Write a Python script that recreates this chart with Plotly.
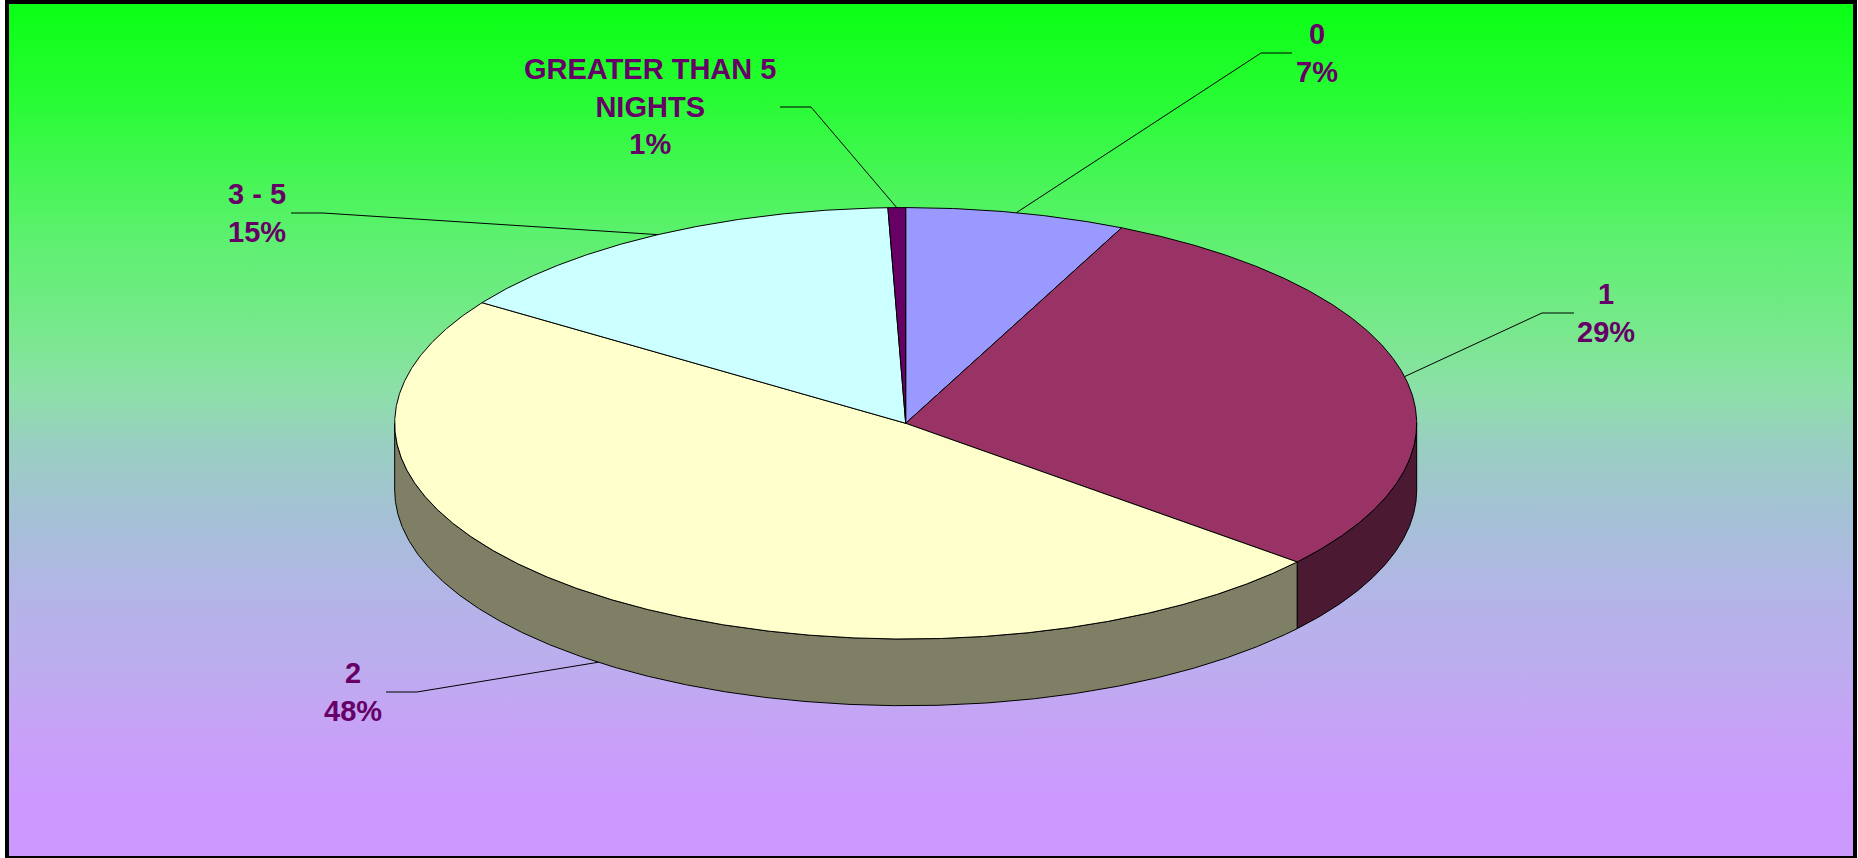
import math
import textwrap
import plotly.graph_objects as go

# Length of stay (nights) -- share of guests
categories = ["0", "1", "2", "3 - 5", "GREATER THAN 5 NIGHTS"]
guests = [25, 105, 174, 54, 2]
slice_colors = ["#9999ff", "#993366", "#ffffcc", "#ccffff", "#660066"]

# label placement: text centre, leader elbow, end of the horizontal leader stub
label_pos = [(1317, 52.5), (1606, 313), (352.5, 691.5), (257, 213), (650, 106)]
leader_elbow = [(1261, 53), (1542, 313), (417, 692), (323, 213), (811, 107)]
leader_end = [(1292, 53), (1574, 313), (386, 692), (291, 213), (780, 107)]

W, H = 1858, 858
CX, CY = 905.7, 423.3      # centre of the pie's top face
RX, RY = 511.0, 215.7      # radii of the tilted top face
DEPTH = 66.7               # thickness of the pie
LABEL_COLOR = "#660066"

# vertical background wash, top (green) to bottom (lavender)
bg_stops = [
    (2, "rgb(10,255,20)"),
    (100, "rgb(40,252,52)"),
    (240, "rgb(94,240,112)"),
    (330, "rgb(120,232,140)"),
    (390, "rgb(140,224,168)"),
    (440, "rgb(152,208,192)"),
    (520, "rgb(165,192,214)"),
    (600, "rgb(180,180,232)"),
    (660, "rgb(188,174,238)"),
    (740, "rgb(200,160,248)"),
    (800, "rgb(204,153,255)"),
    (858, "rgb(204,153,255)"),
]


def rim(t_deg, drop=0.0):
    t = math.radians(t_deg)
    return CX + RX * math.sin(t), CY - RY * math.cos(t) + drop


def arc(a0, a1, drop=0.0):
    n = max(2, int(abs(a1 - a0) / 0.25) + 1)
    pts = [rim(a0 + (a1 - a0) * i / (n - 1), drop) for i in range(n)]
    return [p[0] for p in pts], [p[1] for p in pts]


def shade(hex_color, k=0.5):
    h = hex_color.lstrip("#")
    r, g, b = (int(h[i:i + 2], 16) for i in (0, 2, 4))
    return "rgb({},{},{})".format(int(r * k), int(g * k), int(b * k))


fig = go.Figure()

# background panel
y0, y1 = 2, 858
scale = [[(y - y0) / (y1 - y0), c] for y, c in bg_stops]
scale[0][0], scale[-1][0] = 0.0, 1.0
fig.add_trace(go.Scatter(
    x=[7, 1855, 1855, 7, 7], y=[y0, y0, y1, y1, y0],
    mode="none", fill="toself",
    fillgradient=dict(type="vertical", start=y0, stop=y1, colorscale=scale),
    hoverinfo="skip", showlegend=False,
))

total = float(sum(guests))
bounds = [0.0]
for v in guests:
    bounds.append(bounds[-1] + 360.0 * v / total)

# side walls of the front half
for i, col in enumerate(slice_colors):
    s, e = max(bounds[i], 90.0), min(bounds[i + 1], 270.0)
    if s >= e:
        continue
    tx, ty = arc(s, e)
    bx, by = arc(e, s, DEPTH)
    fig.add_trace(go.Scatter(
        x=tx + bx + [tx[0]], y=ty + by + [ty[0]],
        mode="lines", fill="toself", fillcolor=shade(col),
        line=dict(color="black", width=1),
        hoverinfo="skip", showlegend=False,
    ))

# top faces
for i, col in enumerate(slice_colors):
    ax, ay = arc(bounds[i], bounds[i + 1])
    fig.add_trace(go.Scatter(
        x=[CX] + ax + [CX], y=[CY] + ay + [CY],
        mode="lines", fill="toself", fillcolor=col,
        line=dict(color="black", width=1),
        hoverinfo="skip", showlegend=False,
    ))

# leader lines and labels
for i, cat in enumerate(categories):
    mid = (bounds[i] + bounds[i + 1]) / 2.0
    drop = DEPTH if 90.0 < mid < 270.0 else 0.0
    px, py = rim(mid, drop)
    fig.add_trace(go.Scatter(
        x=[px, leader_elbow[i][0], leader_end[i][0]],
        y=[py, leader_elbow[i][1], leader_end[i][1]],
        mode="lines", line=dict(color="black", width=1),
        hoverinfo="skip", showlegend=False,
    ))
    pct = round(100.0 * guests[i] / total)
    name = "<br>".join(textwrap.wrap(cat, 14))
    fig.add_annotation(
        x=label_pos[i][0], y=label_pos[i][1],
        text="{}<br>{}%".format(name, pct),
        showarrow=False, xanchor="center", yanchor="middle", align="center",
        font=dict(family="Liberation Sans, Arial, sans-serif", size=29,
                  color=LABEL_COLOR, weight=700),
    )

# chart frame
fig.add_shape(type="rect", x0=7, x1=1855, y0=2, y1=858,
              line=dict(color="black", width=4), layer="above")

fig.update_layout(
    width=W, height=H,
    margin=dict(l=0, r=0, t=0, b=0),
    paper_bgcolor="white", plot_bgcolor="rgba(0,0,0,0)",
    xaxis=dict(range=[0, W], visible=False, fixedrange=True),
    yaxis=dict(range=[H, 0], visible=False, fixedrange=True),
    showlegend=False,
    hovermode=False,
)

fig.write_html("out.html")
